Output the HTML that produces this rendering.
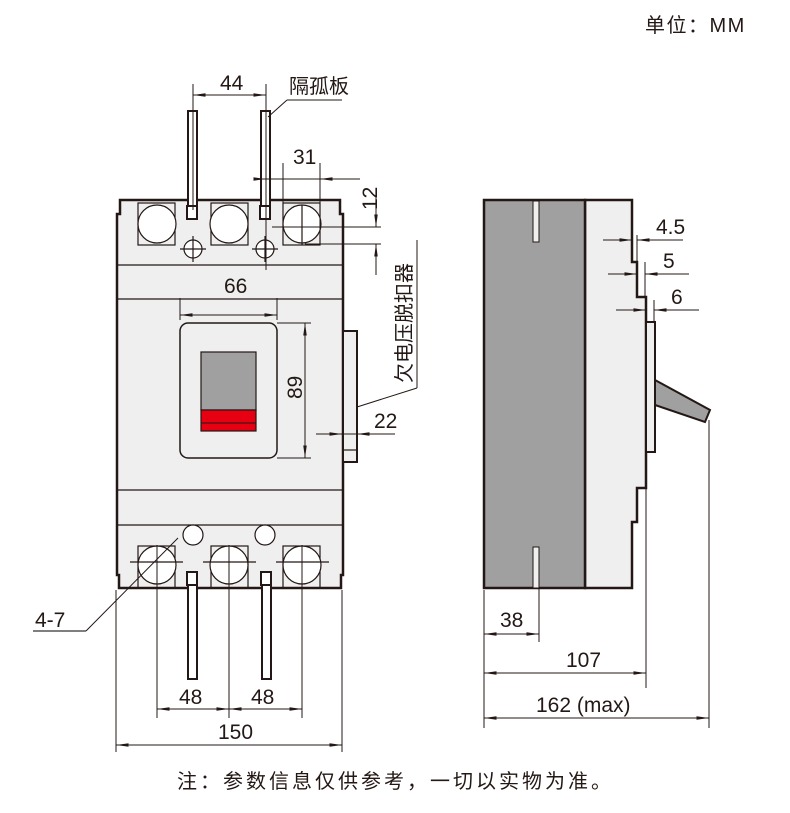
<!DOCTYPE html>
<html><head><meta charset="utf-8"><style>
html,body{margin:0;padding:0;background:#fff;}
svg{display:block;}
text{font-family:"Liberation Sans","Noto Sans CJK SC",sans-serif;fill:#231815;}
</style></head><body>
<svg width="790" height="813" viewBox="0 0 790 813" xmlns="http://www.w3.org/2000/svg">
<defs>
<marker id="a" viewBox="0 0 10 4" refX="10" refY="2" markerWidth="16" markerHeight="5" orient="auto-start-reverse" markerUnits="userSpaceOnUse"><path d="M0,0.6 L10,2 L0,3.4z" fill="#231815"/></marker>
</defs>
<text x="645" y="32" font-size="20" letter-spacing="1.5">单位：MM</text>

<!-- FRONT VIEW body -->
<path d="M120,200 H340 V214 H343 V575 H341 V588 H119 V575 H117 V214 H120 Z" fill="#efefef" stroke="#231815" stroke-width="2.5"/>
<g stroke="#231815" stroke-width="1.2" fill="none">
<line x1="118" y1="265" x2="342" y2="265"/>
<line x1="118" y1="299" x2="342" y2="299"/>
<line x1="118" y1="490" x2="342" y2="490"/>
<line x1="118" y1="525" x2="342" y2="525"/>
<rect x="138" y="203" width="37" height="42"/><rect x="211" y="203" width="37" height="42"/><rect x="283" y="203" width="37" height="42"/>
<circle cx="157" cy="224" r="19" fill="#fff"/><circle cx="229" cy="224" r="19" fill="#fff"/><circle cx="302" cy="224" r="19" fill="#fff"/>
<circle cx="193" cy="249" r="9" fill="#fff"/><circle cx="265" cy="249" r="9" fill="#fff"/>
<line x1="180" y1="249" x2="206" y2="249"/><line x1="193" y1="236" x2="193" y2="262"/>
<line x1="252" y1="249" x2="278" y2="249"/><line x1="265" y1="236" x2="265" y2="262"/>
<line x1="302" y1="205" x2="302" y2="245"/>
<rect x="138" y="546" width="37" height="42"/><rect x="211" y="546" width="37" height="42"/><rect x="283" y="546" width="37" height="42"/>
<circle cx="157" cy="565" r="19" fill="#fff"/><circle cx="229" cy="565" r="19" fill="#fff"/><circle cx="302" cy="565" r="19" fill="#fff"/>
<circle cx="193" cy="535" r="10" fill="#fff"/><circle cx="265" cy="535" r="10" fill="#fff"/>
<line x1="130" y1="562" x2="183" y2="562"/><line x1="203" y1="562" x2="256" y2="562"/><line x1="276" y1="562" x2="329" y2="562"/>
<rect x="180" y="323" width="97" height="135" rx="8" stroke-width="1.5"/>
<rect x="343" y="331" width="14" height="131" fill="#efefef" stroke-width="2"/>
<line x1="343" y1="450" x2="357" y2="450"/>
</g>
<rect x="201" y="352" width="55" height="58" fill="#a0a0a0" stroke="#231815" stroke-width="1.2"/>
<rect x="201" y="410" width="55" height="21" fill="#e60012" stroke="#231815" stroke-width="1.2"/>
<line x1="201" y1="423" x2="256" y2="423" stroke="#231815" stroke-width="1"/>
<g fill="#fff" stroke="#231815" stroke-width="2">
<rect x="188" y="111" width="9" height="95"/><rect x="187" y="206" width="10" height="13"/>
<rect x="261" y="111" width="9" height="95"/><rect x="260" y="206" width="10" height="13"/>
<rect x="187" y="572" width="10" height="13"/><rect x="188" y="585" width="9" height="94"/>
<rect x="261" y="572" width="10" height="13"/><rect x="262" y="585" width="9" height="94"/>
</g>

<g stroke="#231815" stroke-width="1" fill="none">
<line x1="193" y1="84" x2="193" y2="210"/><line x1="266" y1="84" x2="266" y2="270"/>
<line x1="193" y1="95" x2="266" y2="95" marker-start="url(#a)" marker-end="url(#a)"/>
<line x1="268" y1="117" x2="287" y2="100"/><line x1="287" y1="100" x2="342" y2="100"/>
<line x1="283" y1="163" x2="283" y2="245"/><line x1="320" y1="163" x2="320" y2="245"/>
<line x1="254" y1="179" x2="266" y2="179" marker-end="url(#a)"/>
<line x1="266" y1="179" x2="320" y2="179"/>
<line x1="360" y1="179" x2="320" y2="179" marker-end="url(#a)"/>
<line x1="272" y1="227" x2="381" y2="227"/><line x1="305" y1="244" x2="381" y2="244"/>
<line x1="376" y1="192" x2="376" y2="227" marker-end="url(#a)"/>
<line x1="376" y1="275" x2="376" y2="244" marker-end="url(#a)"/>
<line x1="180" y1="298" x2="180" y2="320"/><line x1="277" y1="298" x2="277" y2="320"/>
<line x1="180" y1="315" x2="277" y2="315" marker-start="url(#a)" marker-end="url(#a)"/>
<line x1="277" y1="323" x2="311" y2="323"/><line x1="277" y1="458" x2="311" y2="458"/>
<line x1="305" y1="323" x2="305" y2="458" marker-start="url(#a)" marker-end="url(#a)"/>
<line x1="316" y1="434" x2="342" y2="434" marker-end="url(#a)"/>
<line x1="342" y1="434" x2="357" y2="434"/>
<line x1="395" y1="434" x2="357" y2="434" marker-end="url(#a)"/>
<line x1="357" y1="407" x2="417" y2="388"/><line x1="417" y1="388" x2="417" y2="240"/>
<line x1="178" y1="538" x2="86" y2="631"/><line x1="86" y1="631" x2="33" y2="631" stroke="#555" stroke-width="1.5"/>
<line x1="157" y1="545" x2="157" y2="718"/><line x1="229" y1="545" x2="229" y2="718"/><line x1="302" y1="545" x2="302" y2="718"/>
<line x1="157" y1="709" x2="229" y2="709" marker-start="url(#a)" marker-end="url(#a)"/>
<line x1="229" y1="709" x2="302" y2="709" marker-start="url(#a)" marker-end="url(#a)"/>
<line x1="116" y1="590" x2="116" y2="752"/><line x1="342" y1="590" x2="342" y2="752"/>
<line x1="116" y1="745" x2="342" y2="745" marker-start="url(#a)" marker-end="url(#a)"/>
</g>
<text x="220" y="90" font-size="21">44</text>
<text x="289" y="93" font-size="20">隔孤板</text>
<text x="293" y="164" font-size="21">31</text>
<text x="0" y="0" font-size="21" transform="translate(377,210) rotate(-90)">12</text>
<text x="224" y="293" font-size="21">66</text>
<text x="0" y="0" font-size="21" transform="translate(302,399) rotate(-90)">89</text>
<text x="374" y="428" font-size="21">22</text>
<text x="0" y="0" font-size="20" transform="translate(411,383) rotate(-90)">欠电压脱扣器</text>
<text x="35" y="627" font-size="21">4-7</text>
<text x="179" y="704" font-size="21">48</text>
<text x="251" y="704" font-size="21">48</text>
<text x="218" y="739" font-size="21">150</text>

<!-- SIDE VIEW -->
<path d="M585,200 H632 V262 H637 V297 H646 V488 H637 V522 H632 V588 H585 Z" fill="#efefef" stroke="#231815" stroke-width="2.5"/>
<rect x="646" y="322" width="9" height="130" fill="#efefef" stroke="#231815" stroke-width="2"/>
<rect x="484" y="200" width="101" height="388" fill="#a0a0a0" stroke="#231815" stroke-width="2.5"/>
<rect x="533" y="201" width="6" height="41" fill="#efefef" stroke="#231815" stroke-width="1"/>
<rect x="533" y="547" width="6" height="41" fill="#efefef" stroke="#231815" stroke-width="1"/>
<polygon points="655,380 710,410 705,422 655,405" fill="#a0a0a0" stroke="#231815" stroke-width="2"/>
<g stroke="#231815" stroke-width="1" fill="none">
<line x1="637" y1="235" x2="637" y2="262"/><line x1="645" y1="262" x2="645" y2="297"/><line x1="654" y1="300" x2="654" y2="322"/>
<line x1="603" y1="240" x2="632" y2="240" marker-end="url(#a)"/><line x1="683" y1="240" x2="637" y2="240" marker-end="url(#a)"/>
<line x1="608" y1="274" x2="637" y2="274" marker-end="url(#a)"/><line x1="689" y1="274" x2="645" y2="274" marker-end="url(#a)"/>
<line x1="616" y1="310" x2="646" y2="310" marker-end="url(#a)"/><line x1="699" y1="310" x2="654" y2="310" marker-end="url(#a)"/>
<line x1="484" y1="590" x2="484" y2="728"/><line x1="539" y1="588" x2="539" y2="642"/>
<line x1="646" y1="488" x2="646" y2="688"/><line x1="709" y1="420" x2="709" y2="728"/>
<line x1="484" y1="634" x2="539" y2="634" marker-start="url(#a)" marker-end="url(#a)"/>
<line x1="484" y1="673" x2="646" y2="673" marker-start="url(#a)" marker-end="url(#a)"/>
<line x1="484" y1="718" x2="709" y2="718" marker-start="url(#a)" marker-end="url(#a)"/>
</g>
<text x="656" y="234" font-size="21">4.5</text>
<text x="663" y="268" font-size="21">5</text>
<text x="671" y="304" font-size="21">6</text>
<text x="500" y="627" font-size="21">38</text>
<text x="566" y="667" font-size="21">107</text>
<text x="536" y="712" font-size="21">162 (max)</text>

<text x="177" y="788" font-size="20" letter-spacing="3">注：参数信息仅供参考，一切以实物为准。</text>
</svg>
</body></html>
